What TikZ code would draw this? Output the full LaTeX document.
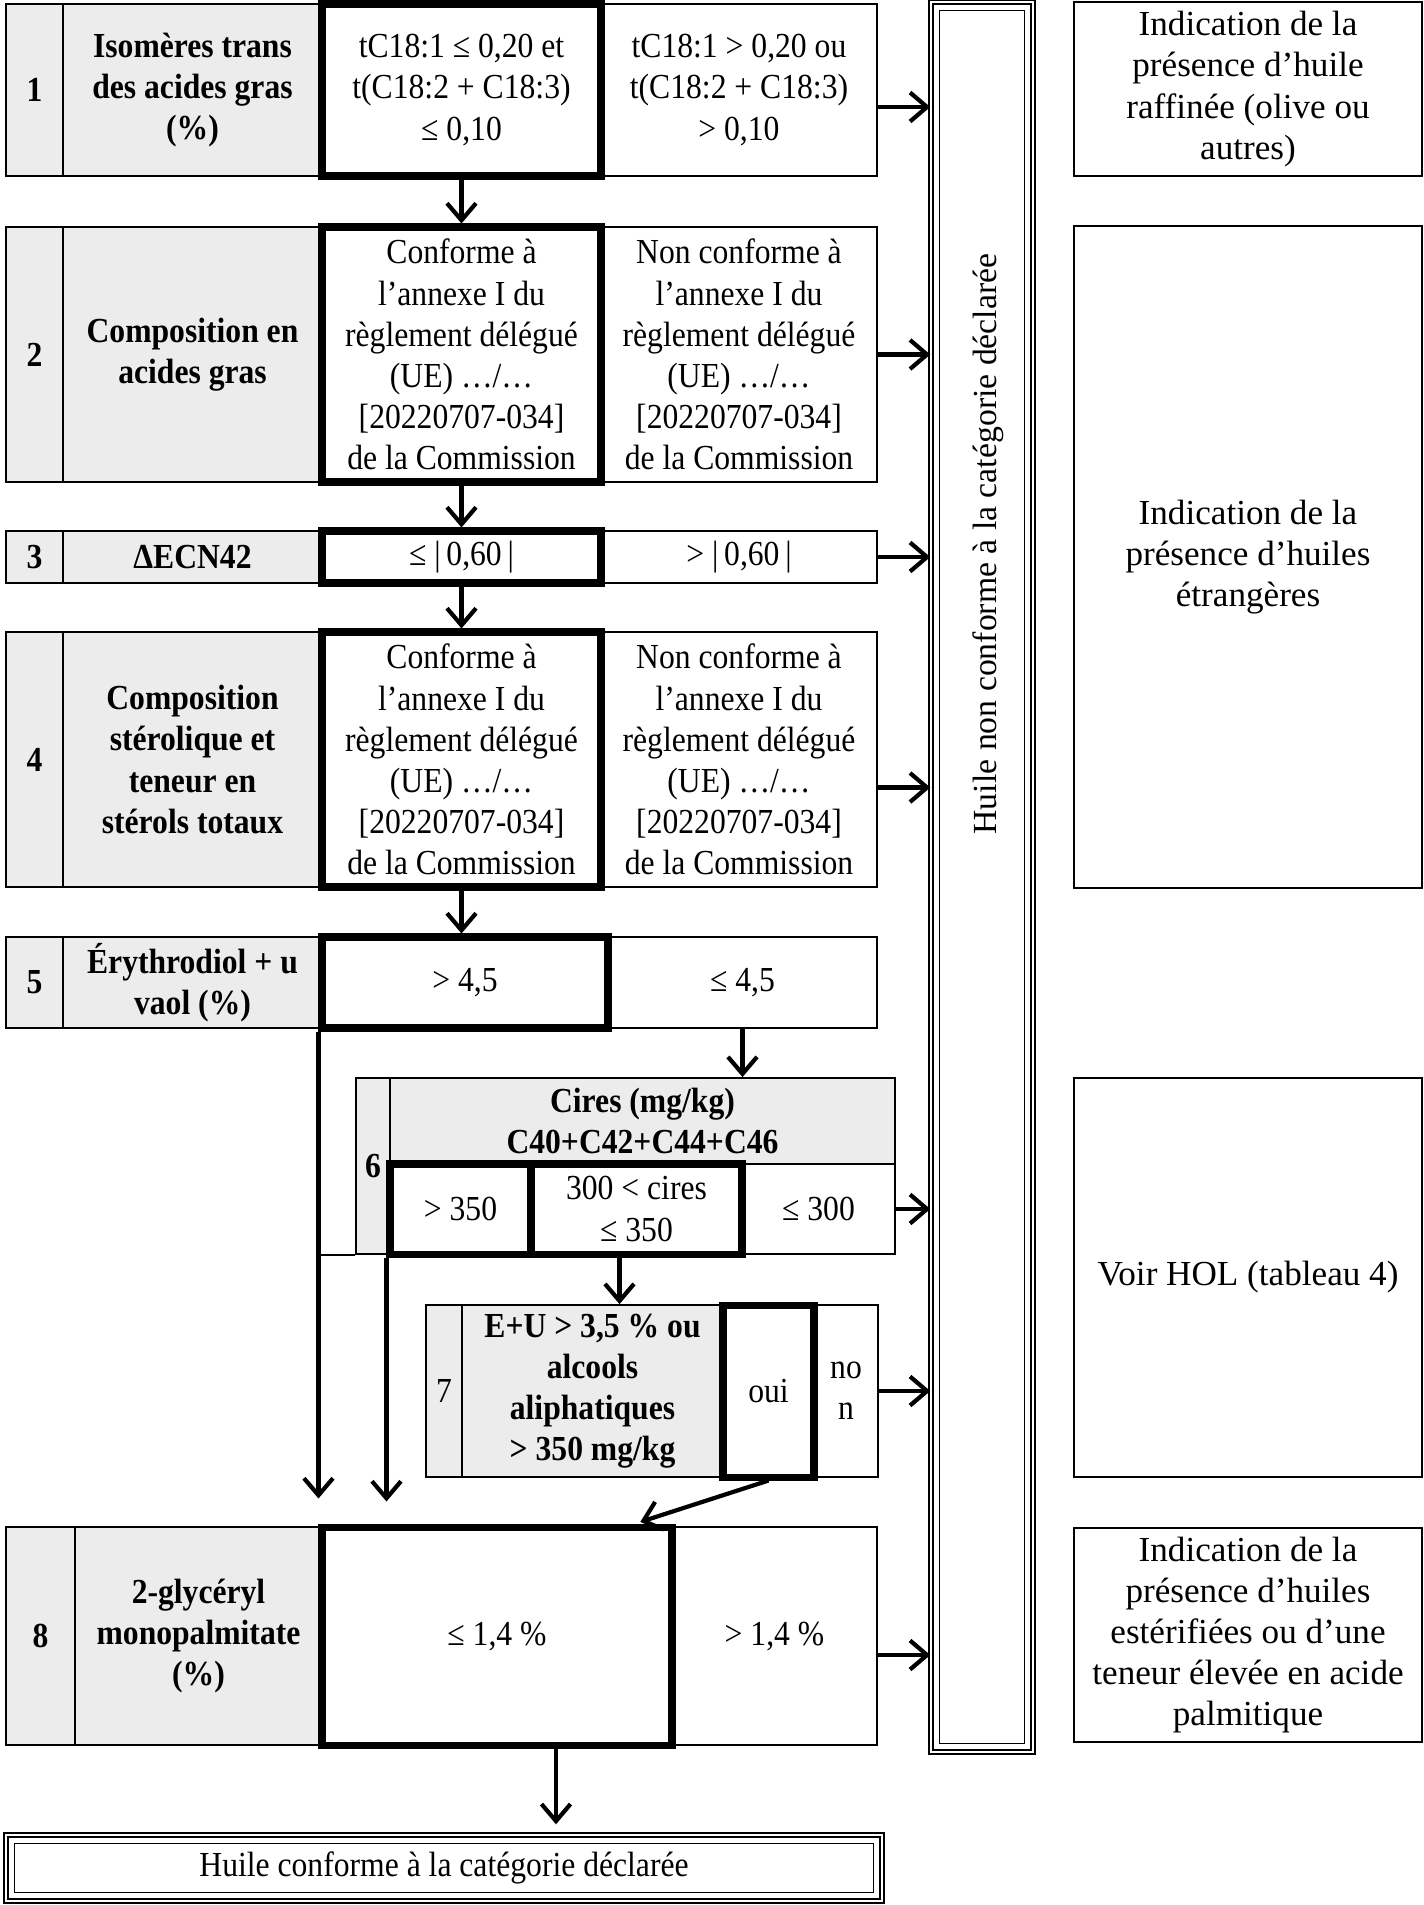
\documentclass[tikz,border=0pt]{standalone}
\usepackage{fontspec}
\setmainfont{Liberation Serif}[FakeStretch=0.9]
\newfontfamily\plainrm{Liberation Serif}
\usepackage{tikz}
\usetikzlibrary{arrows.meta,calc}

\begin{document}
\begin{tikzpicture}[>={Straight Barb[length=1.7mm,width=2.9mm]}, font=\fontsize{10}{11.7}\selectfont,
 sz/.style 2 args={minimum width=#1cm,minimum height=#2cm},
 cell/.style={draw,line width=0.5pt,align=center,inner sep=0.5pt,font=\fontsize{10}{11.7}\selectfont},
 hd/.style={cell,fill=gray!15,font=\fontsize{10}{11.7}\selectfont\bfseries},
 ok/.style={draw,line width=2pt,fill=white,align=center,inner sep=0.5pt,font=\fontsize{10}{11.7}\selectfont},
 info/.style={cell,font=\plainrm\fontsize{10}{11.7}\selectfont},
 trip/.style={draw,line width=0.4pt,double,double distance=0.8pt,align=center},
 arr/.style={->,line width=1.2pt}]
\useasboundingbox (0,0) rectangle (14.24,-19.05);
\node[hd,sz={0.57}{1.72}] (n1) at (0.345,-0.90) {1};
\node[hd,sz={2.59}{1.72}] (l1) at (1.925,-0.90) {Isomères trans\\des acides gras\\(\%)};
\node[cell,sz={2.76}{1.72}] (r1) at (7.39,-0.90) {tC18:1 > 0,20 ou\\t(C18:2 + C18:3)\\> 0,10};
\node[ok,sz={2.79}{1.72}] (c1) at (4.615,-0.90) {tC18:1 ≤ 0,20 et\\t(C18:2 + C18:3)\\≤ 0,10};
\node[hd,sz={0.57}{2.55}] (n2) at (0.345,-3.545) {2};
\node[hd,sz={2.59}{2.55}] (l2) at (1.925,-3.545) {Composition en\\acides gras};
\node[cell,sz={2.76}{2.55}] (r2) at (7.39,-3.545) {Non conforme à\\l’annexe I du\\règlement délégué\\(UE) …/…\\{}[20220707-034]\\de la Commission};
\node[ok,sz={2.79}{2.55}] (c2) at (4.615,-3.545) {Conforme à\\l’annexe I du\\règlement délégué\\(UE) …/…\\{}[20220707-034]\\de la Commission};
\node[hd,sz={0.57}{0.52}] (n3) at (0.345,-5.57) {3};
\node[hd,sz={2.59}{0.52}] (l3) at (1.925,-5.57) {ΔECN42};
\node[cell,sz={2.76}{0.52}] (r3) at (7.39,-5.57) {> |\,0,60\,|};
\node[ok,sz={2.79}{0.52}] (c3) at (4.615,-5.57) {≤ |\,0,60\,|};
\node[hd,sz={0.57}{2.55}] (n4) at (0.345,-7.595) {4};
\node[hd,sz={2.59}{2.55}] (l4) at (1.925,-7.595) {Composition\\stérolique et\\teneur en\\stérols totaux};
\node[cell,sz={2.76}{2.55}] (r4) at (7.39,-7.595) {Non conforme à\\l’annexe I du\\règlement délégué\\(UE) …/…\\{}[20220707-034]\\de la Commission};
\node[ok,sz={2.79}{2.55}] (c4) at (4.615,-7.595) {Conforme à\\l’annexe I du\\règlement délégué\\(UE) …/…\\{}[20220707-034]\\de la Commission};
\node[hd,sz={0.57}{0.91}] (n5) at (0.345,-9.825) {5};
\node[hd,sz={2.59}{0.91}] (l5) at (1.925,-9.825) {Érythrodiol + u\\vaol (\%)};
\node[cell,sz={2.69}{0.91}] (r5) at (7.425,-9.825) {≤ 4,5};
\node[ok,sz={2.86}{0.91}] (c5) at (4.65,-9.825) {> 4,5};
\node[hd,sz={0.34}{1.76}] (n6) at (3.73,-11.66) {6};
\node[hd,sz={5.05}{0.86}] (h6) at (6.425,-11.21) {Cires (mg/kg)\\C40+C42+C44+C46};
\node[cell,sz={1.53}{0.90}] (c6) at (8.185,-12.09) {≤ 300};
\node[ok,sz={1.41}{0.90}] (a6) at (4.605,-12.09) {> 350};
\node[ok,sz={2.11}{0.90}] (b6) at (6.365,-12.09) {300 < cires\\≤ 350};
\node[hd,sz={0.36}{1.72}] (n7) at (4.44,-13.91) {\mdseries 7};
\node[hd,sz={2.61}{1.72}] (l7) at (5.925,-13.91) {E+U > 3,5 \% ou\\alcools\\aliphatiques\\> 350 mg/kg};
\node[cell,sz={0.64}{1.72}] (no7) at (8.46,-13.91) {no\\n};
\node[ok,sz={0.91}{1.72}] (oui) at (7.685,-13.91) {oui};
\node[hd,sz={0.69}{2.18}] (n8) at (0.405,-16.36) {8};
\node[hd,sz={2.47}{2.18}] (l8) at (1.985,-16.36) {2-glycéryl\\monopalmitate\\(\%)};
\node[cell,sz={2.05}{2.18}] (r8) at (7.745,-16.36) {> 1,4 \%};
\node[ok,sz={3.50}{2.18}] (c8) at (4.97,-16.36) {≤ 1,4 \%};
\node[trip,sz={8.76}{0.66}] (fin) at (4.44,-18.68) {Huile conforme à la catégorie déclarée};
\node[trip,sz={1.02}{17.50}] (vb) at (9.82,-8.77) {};
\node[rotate=90,font=\plainrm\fontsize{9.6}{11.5}\selectfont] (nc) at (9.88,-5.44) {Huile non conforme à la catégorie déclarée};
\node[info,sz={3.48}{1.74}] (ia) at (12.48,-0.89) {Indication de la\\présence d’huile\\raffinée (olive ou\\autres)};
\node[info,sz={3.48}{6.62}] (ib) at (12.48,-5.57) {Indication de la\\présence d’huiles\\étrangères};
\node[info,sz={3.48}{3.99}] (ic) at (12.48,-12.775) {Voir HOL (tableau 4)};
\node[info,sz={3.48}{2.14}] (id) at (12.48,-16.35) {Indication de la\\présence d’huiles\\estérifiées ou d’une\\teneur élevée en acide\\palmitique};
\draw[line width=0.4pt] ($(vb.north west)+(0.09,-0.09)$) rectangle ($(vb.south east)+(-0.09,0.09)$);
\draw[line width=0.4pt] ($(fin.north west)+(0.09,-0.09)$) rectangle ($(fin.south east)+(-0.09,0.09)$);
\draw[line width=0.5pt] (c5.south west |- n6.south) -- (n6.south west);
\draw[arr] (c1) -- (c2);
\draw[arr] (c2) -- (c3);
\draw[arr] (c3) -- (c4);
\draw[arr] (c4.south) -- (c4.south |- c5.north);
\draw[arr] (r5.south) -- (r5.south |- h6.north);
\draw[arr,shorten >=2.5mm] (c5.south west) -- (c5.south west |- c8.north);
\draw[arr,shorten >=2.2mm] (a6.south west) -- (a6.south west |- c8.north);
\draw[arr] ([xshift=-1.7mm]b6.south) -- ([xshift=-1.7mm]b6.south |- l7.north);
\draw[arr,shorten >=0.5mm] (oui.south) -- ([xshift=-4mm]c8.north east);
\draw[arr,shorten >=1mm] ([xshift=5.9mm]c8.south) -- ([xshift=5.9mm]c8.south |- fin.north);
\draw[arr] ([yshift=-1.7mm]r1.east) -- ([yshift=-1.7mm]r1.east -| vb.west);
\draw[arr] (r2.east) -- (r2.east -| vb.west);
\draw[arr] (r3.east) -- (r3.east -| vb.west);
\draw[arr] ([yshift=-2.8mm]r4.east) -- ([yshift=-2.8mm]r4.east -| vb.west);
\draw[arr] (c6.east) -- (c6.east -| vb.west);
\draw[arr] (no7.east) -- (no7.east -| vb.west);
\draw[arr] ([yshift=-1.9mm]r8.east) -- ([yshift=-1.9mm]r8.east -| vb.west);
\end{tikzpicture}
\end{document}
